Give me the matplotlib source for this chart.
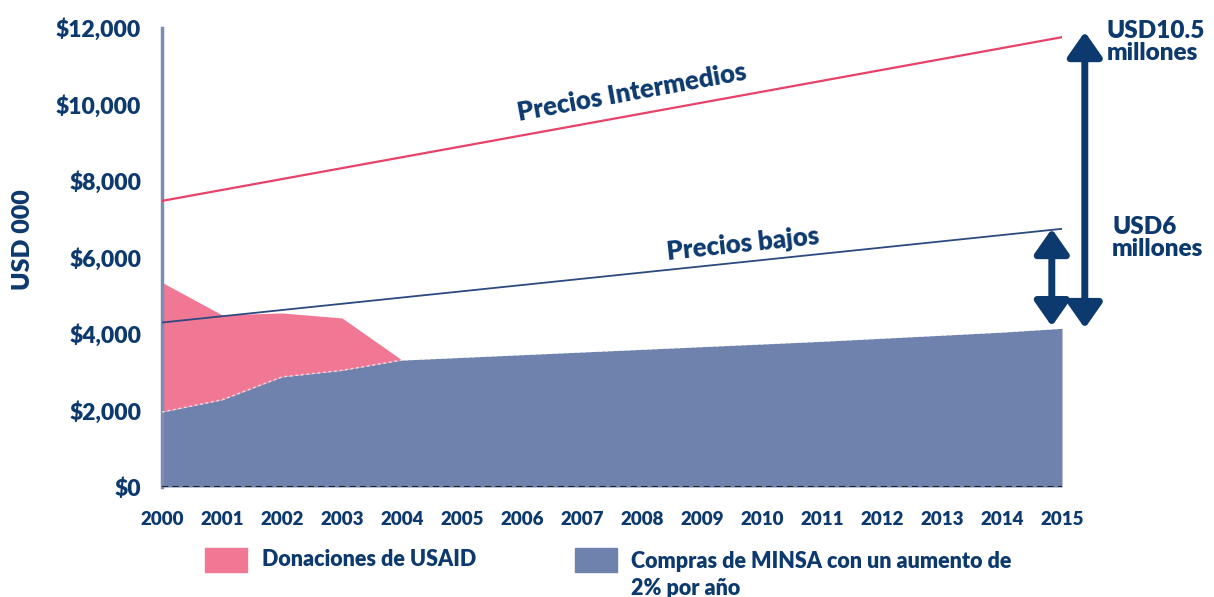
import matplotlib
matplotlib.use("Agg")
import matplotlib.pyplot as plt
from matplotlib.patches import Rectangle

# ---- data ----
years = [2000, 2001, 2002, 2003, 2004, 2005, 2006, 2007, 2008, 2009, 2010, 2011, 2012, 2013, 2014, 2015]
minsa = [1960, 2280, 2880, 3050, 3320, 3390, 3460, 3530, 3600, 3670, 3740, 3810, 3890, 3970, 4050, 4150]
usaid_top = [5350, 4500, 4550, 4420, 3320, 3390, 3460, 3530, 3600, 3670, 3740, 3810, 3890, 3970, 4050, 4150]
line_years = [2000, 2015]
precios_bajos = [4300, 6750]
precios_intermedios = [7480, 11760]
yticks = [0, 2000, 4000, 6000, 8000, 10000, 12000]
ytick_labels = ["$0", "$2,000", "$4,000", "$6,000", "$8,000", "$10,000", "$12,000"]

NAVY = "#0d3a6e"
PINK = "#f07895"
BLUE = "#6e82ad"
PINK_LINE = "#e8416a"
FONT = ["Lato", "DejaVu Sans"]
W = "heavy"

plt.rcParams["font.family"] = FONT
fig = plt.figure(figsize=(12.14, 5.97), dpi=100)
ax = fig.add_axes([162/1214, 110/597, 900/1214, 459/597])

ax.fill_between(years, minsa, usaid_top, color=PINK, lw=0, zorder=1)
ax.fill_between(years, 0, minsa, color=BLUE, lw=0, zorder=2)
ax.plot(years, minsa, color="white", lw=1, ls=(0, (2, 2)), alpha=0.7, zorder=3)
ax.axhline(0, color="#222222", lw=1.5, ls=(0, (3, 2)), zorder=4)
ax.plot(line_years, precios_bajos, color="#2c4a80", lw=1.3, zorder=5)
ax.plot(line_years, precios_intermedios, color=PINK_LINE, lw=1.6, zorder=5)

ax.set_xlim(2000, 2015)
ax.set_ylim(0, 12000)
ax.set_yticks(yticks)
ax.set_yticklabels(ytick_labels)
ax.set_xticks(years)
ax.set_xticklabels([str(y) for y in years])
ax.tick_params(axis="both", length=0, colors=NAVY)
for lab in ax.get_yticklabels():
    lab.set_fontsize(16.5)
    lab.set_fontweight(W)
for lab in ax.get_xticklabels():
    lab.set_fontsize(13.5)
    lab.set_fontweight(W)
ax.tick_params(axis="y", pad=15)
ax.tick_params(axis="x", pad=17)
for s in ["top", "right", "bottom"]:
    ax.spines[s].set_visible(False)
ax.spines["left"].set_color("#7a8db5")
ax.spines["left"].set_linewidth(2.5)

ax.set_ylabel("USD 000", fontsize=18, fontweight=W, color=NAVY)
ax.yaxis.set_label_coords(-128/900, (487 - 240) / 459)

ax.text(2007.87, 10000, "Precios Intermedios", fontsize=18.5, fontweight=W,
        color=NAVY, rotation=10.3, ha="center", va="bottom", rotation_mode="anchor")
ax.text(2009.7, 6040, "Precios bajos", fontsize=18.5, fontweight=W,
        color=NAVY, rotation=6, ha="center", va="bottom", rotation_mode="anchor")

# arrows
ax.annotate("", xy=(2015.38, 11900), xytext=(2015.38, 4150),
            arrowprops=dict(arrowstyle="<|-|>,head_length=0.5,head_width=0.35", color=NAVY, lw=5,
                            mutation_scale=30, shrinkA=0, shrinkB=0),
            annotation_clip=False)
ax.annotate("", xy=(2014.83, 6750), xytext=(2014.83, 4200),
            arrowprops=dict(arrowstyle="<|-|>,head_length=0.5,head_width=0.35", color=NAVY, lw=5,
                            mutation_scale=30, shrinkA=0, shrinkB=0),
            annotation_clip=False)

fig.text(1107/1214, 1 - 42/597, "USD10.5\nmillones", fontsize=17.5, fontweight=W,
         color=NAVY, ha="left", va="center", linespacing=0.95)
fig.text(1112/1214, 1 - 238/597, "USD6\nmillones", fontsize=17.5, fontweight=W,
         color=NAVY, ha="left", va="center", linespacing=0.95)

# legend
fig.add_artist(Rectangle((205/1214, 1 - 572/597), 42/1214, 24/597, color=PINK, transform=fig.transFigure))
fig.add_artist(Rectangle((575/1214, 1 - 572/597), 42/1214, 24/597, color=BLUE, transform=fig.transFigure))
fig.text(262/1214, 1 - 560/597, "Donaciones de USAID", fontsize=15.5, fontweight=W,
         color=NAVY, ha="left", va="center")
fig.text(631/1214, 1 - 575/597, "Compras de MINSA con un aumento de\n2% por año", fontsize=15.5,
         fontweight=W, color=NAVY, ha="left", va="center", linespacing=1.4)

fig.savefig("out.png", dpi=100)
